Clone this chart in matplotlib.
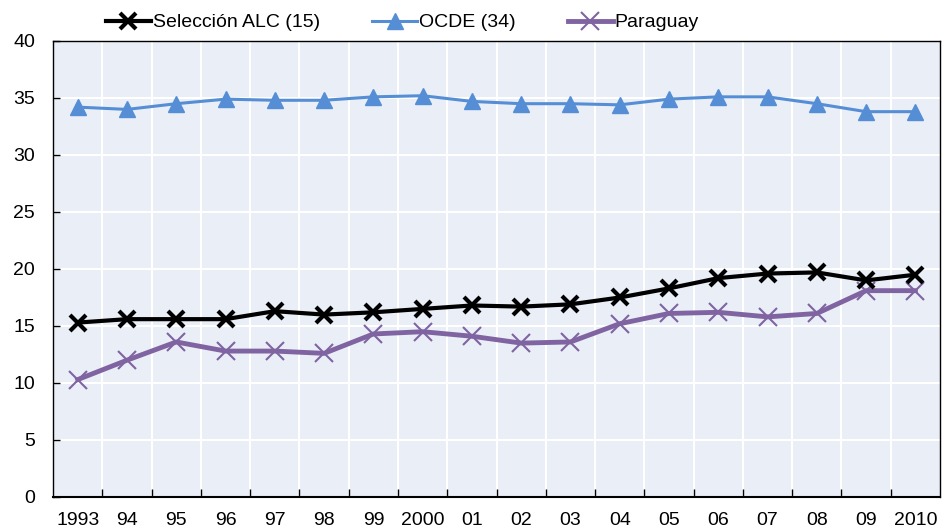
import numpy as np
import matplotlib
matplotlib.use("Agg")
import matplotlib.pyplot as plt
from matplotlib.ticker import MultipleLocator, FixedLocator

years = ["1993", "94", "95", "96", "97", "98", "99", "2000", "01", "02",
         "03", "04", "05", "06", "07", "08", "09", "2010"]
alc = [15.3, 15.6, 15.6, 15.6, 16.3, 16.0, 16.2, 16.5, 16.8, 16.7,
       16.9, 17.5, 18.3, 19.2, 19.6, 19.7, 19.0, 19.5]
ocde = [34.2, 34.0, 34.5, 34.9, 34.8, 34.8, 35.1, 35.2, 34.7, 34.5,
        34.5, 34.4, 34.9, 35.1, 35.1, 34.5, 33.8, 33.8]
paraguay = [10.3, 12.0, 13.6, 12.8, 12.8, 12.6, 14.3, 14.5, 14.1, 13.5,
            13.6, 15.2, 16.1, 16.2, 15.8, 16.1, 18.1, 18.1]

plt.rcParams['font.family'] = ['Liberation Sans', 'DejaVu Sans']

fig = plt.figure(figsize=(9.48, 5.29), dpi=100)
ax = fig.add_axes([0.056, 0.0605, 0.9356, 0.862])
ax.set_facecolor('#EAEFF7')

x = np.arange(len(years))
ax.plot(x, alc, color='black', lw=3, marker='x', ms=11, mew=3,
        label='Selección ALC (15)', zorder=4)
ax.plot(x, ocde, color='#558ED5', lw=2.2, marker='^', ms=11,
        label='OCDE (34)', zorder=3)
ax.plot(x, paraguay, color='#8064A2', lw=3.5, marker='x', ms=13, mew=1.5,
        label='Paraguay', zorder=3)

ax.set_xlim(-0.5, len(years) - 0.5)
ax.set_ylim(0, 40)
ax.yaxis.set_major_locator(MultipleLocator(5))
ax.set_xticks(x)
ax.set_xticklabels(years)
ax.xaxis.set_minor_locator(FixedLocator(np.arange(0.5, len(years) - 1, 1)))
ax.tick_params(axis='x', which='major', length=0, pad=11, labelsize=14)
ax.tick_params(axis='x', which='minor', direction='in', length=6, width=1)
ax.tick_params(axis='y', direction='in', length=5, width=1, labelsize=14, pad=13)

ax.grid(axis='y', which='major', color='white', lw=1.5)
ax.grid(axis='x', which='minor', color='white', lw=1.5)
ax.set_axisbelow(True)
for s in ax.spines.values():
    s.set_color('black')
    s.set_linewidth(1)
ax.spines['bottom'].set_linewidth(1.5)

ax.legend(loc='lower center', bbox_to_anchor=(0.394, 1.004), ncol=3,
          frameon=False, fontsize=14, handlelength=2.3, handletextpad=0.1,
          columnspacing=2.7, borderaxespad=0)

fig.savefig('out.png', dpi=100)
